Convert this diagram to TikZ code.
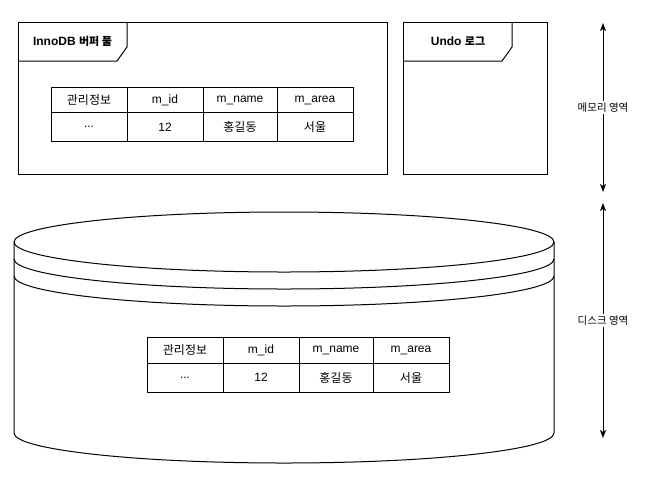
\documentclass[tikz,border=0pt]{standalone}
\usepackage{fontspec}
\setmainfont{Liberation Sans}
\newfontfamily\kr{Noto Sans CJK KR}
\usetikzlibrary{arrows.meta}
\tikzset{
  cell/.style={draw, line width=1pt, inner sep=0pt, outer sep=0pt, anchor=north west,
    font=\fontsize{12}{14}\selectfont},
  frame/.style={draw, line width=1pt, inner sep=0pt, outer sep=0pt, anchor=north west,
    minimum width=369pt, minimum height=152pt},
  tabline/.style={line width=1pt},
  title/.style={font=\bfseries\fontsize{12}{14}\selectfont, inner sep=0pt},
  cyl/.style={line width=1pt},
  span/.style={line width=1pt, {Stealth[length=8pt,width=6pt,inset=2pt]}-{Stealth[length=8pt,width=6pt,inset=2pt]}},
  spanlabel/.style={fill=white, inner sep=2pt, font=\kr\fontsize{10.5}{13}\selectfont}
}
\newcommand\krt[1]{{\kr\fontsize{11}{14}\selectfont #1}}
\newcommand\dbtable[3]{%
  \node[cell, minimum width=76pt, minimum height=25.5pt] (#1h1) at (#2,#3) {{\kr 관리정보}};
  \node[cell, minimum width=76pt, minimum height=25.5pt] (#1h2) at (#2+76,#3) {m\_id};
  \node[cell, minimum width=74pt, minimum height=25.5pt] (#1h3) at (#2+152,#3) {m\_name};
  \node[cell, minimum width=76pt, minimum height=25.5pt] (#1h4) at (#2+226,#3) {m\_area};
  \node[cell, minimum width=76pt, minimum height=29pt] (#1d1) at (#2,#3+25.5) {...};
  \node[cell, minimum width=76pt, minimum height=29pt] (#1d2) at (#2+76,#3+25.5) {12};
  \node[cell, minimum width=74pt, minimum height=29pt] (#1d3) at (#2+152,#3+25.5) {{\kr 홍길동}};
  \node[cell, minimum width=76pt, minimum height=29pt] (#1d4) at (#2+226,#3+25.5) {{\kr 서울}};
}
\begin{document}
\begin{tikzpicture}[x=1pt, y=-1pt]
  \fill[white] (0,0) rectangle (655,491);
  \useasboundingbox (0,0) rectangle (655,491);

  % InnoDB buffer pool frame
  \node[frame] (bp) at (18,22) {};
  \draw[tabline] (127,22) -- (127,47) -- (117,61) -- (18,61);
  \node[title] (bpt) at (72.5,41.5) {InnoDB \krt{버퍼 풀}};
  \dbtable{t}{51}{87.3}

  % Undo log frame
  \node[frame, minimum width=144pt] (ul) at (403,22) {};
  \draw[tabline] (512,22) -- (512,47) -- (502,61) -- (403,61);
  \node[title] (ult) at (458,41.5) {Undo \krt{로그}};

  % Disk cylinder
  \draw[cyl, fill=white] (14,242) -- (14,433) arc[start angle=180, end angle=0, x radius=270, y radius=30] -- (554,242);
  \draw[cyl, fill=white] (284,242) ellipse [x radius=270, y radius=30];
  \draw[cyl] (14,259) arc[start angle=180, end angle=0, x radius=270, y radius=30];
  \draw[cyl] (14,276) arc[start angle=180, end angle=0, x radius=270, y radius=30];
  \dbtable{b}{147}{337.7}

  % Spans
  \coordinate (mtop) at (603,23);
  \coordinate (mbot) at (603,192);
  \coordinate (dtop) at (603,203);
  \coordinate (dbot) at (603,438);
  \draw[span] (mtop) -- (mbot) node[midway, spanlabel] (ml) {메모리 영역};
  \draw[span] (dtop) -- (dbot) node[midway, spanlabel] (dl) {디스크 영역};
\end{tikzpicture}
\end{document}
